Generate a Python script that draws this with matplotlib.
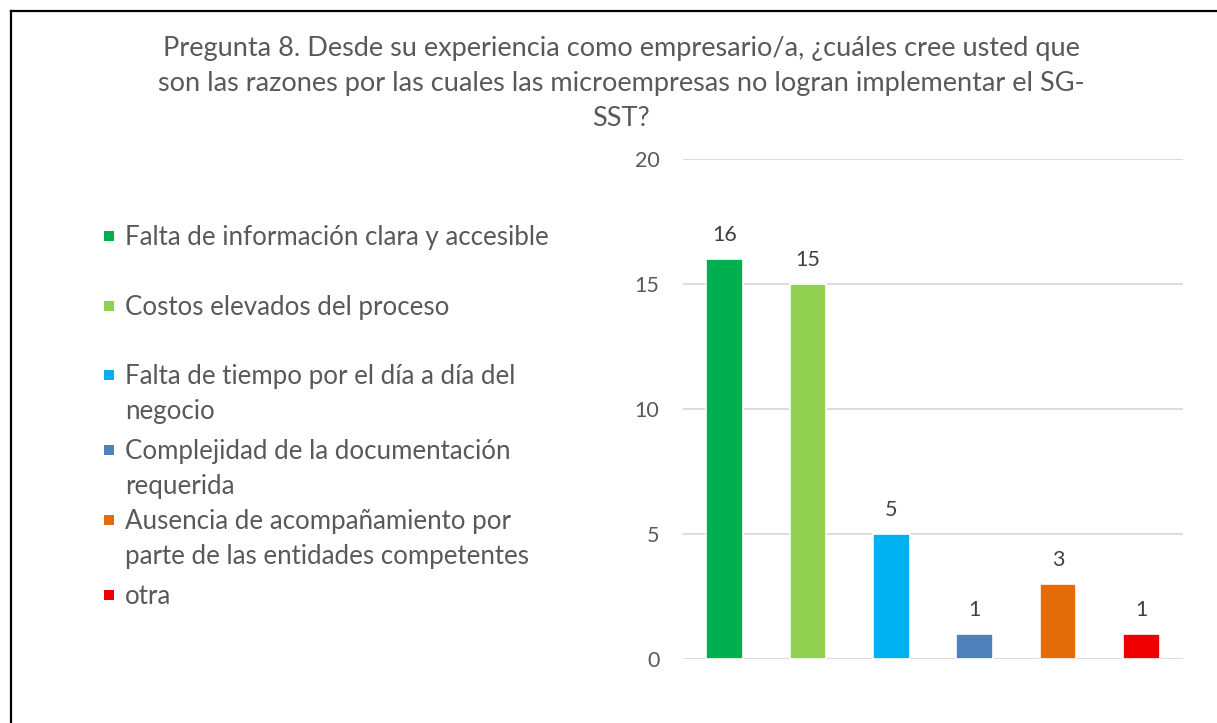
import matplotlib.pyplot as plt
from matplotlib.patches import Rectangle
from matplotlib.lines import Line2D

plt.rcParams['font.family'] = ['Lato', 'DejaVu Sans']

# data
categorias = ['Falta de información clara y accesible',
              'Costos elevados del proceso',
              'Falta de tiempo por el día a día del\nnegocio',
              'Complejidad de la documentación\nrequerida',
              'Ausencia de acompañamiento por\nparte de las entidades competentes',
              'otra']
valores = [16, 15, 5, 1, 3, 1]
colores = ['#00B050', '#92D050', '#00B0F0', '#4F81BD', '#E36C09', '#EE0000']
titulo = ('Pregunta 8. Desde su experiencia como empresario/a, ¿cuáles cree usted que\n'
          'son las razones por las cuales las microempresas no logran implementar el SG-\n'
          'SST?')

gris = '#595959'
W, H = 1217, 723
fig = plt.figure(figsize=(W / 100, H / 100), dpi=100)

# frame lines (left and top only, picture is cropped)
fig.add_artist(Line2D([11 / W, 11 / W], [0, 1 - 11 / H], color='black', lw=1.6))
fig.add_artist(Line2D([11 / W, 1], [1 - 11 / H, 1 - 11 / H], color='black', lw=1.6))

fig.text(621 / W, 1 - 36 / H, titulo, ha='center', va='top', fontsize=19.5,
         color=gris, linespacing=1.5)

ax = fig.add_axes([683 / W, 1 - 659 / H, 500 / W, 500 / H])
x = range(len(valores))
bars = ax.bar(x, valores, width=0.44, color=colores, edgecolor='white', linewidth=1.2, zorder=3)
for b, v in zip(bars, valores):
    ax.text(b.get_x() + b.get_width() / 2, v + 0.55, str(v), ha='center', va='bottom',
            fontsize=15.5, color='#404040')

ax.set_xlim(-0.5, len(valores) - 0.5)
ax.set_ylim(0, 20)
ax.set_yticks([0, 5, 10, 15, 20])
ax.yaxis.grid(True, color='#D9D9D9', lw=1.3, zorder=0)
ax.set_xticks([])
ax.tick_params(axis='y', length=0, pad=17, labelsize=15.5, labelcolor=gris)
for s in ax.spines.values():
    s.set_visible(False)

# legend
ys = [236, 306, 375, 450, 520, 595]
for lab, col, y in zip(categorias, colores, ys):
    fig.add_artist(Rectangle((104 / W, 1 - (y + 5) / H), 10 / W, 10 / H,
                             facecolor=col, edgecolor='none'))
    fig.text(125 / W, 1 - (y - 11) / H, lab, ha='left', va='top', fontsize=18.6,
             color=gris, linespacing=1.5)

fig.savefig('out.png', dpi=100)
